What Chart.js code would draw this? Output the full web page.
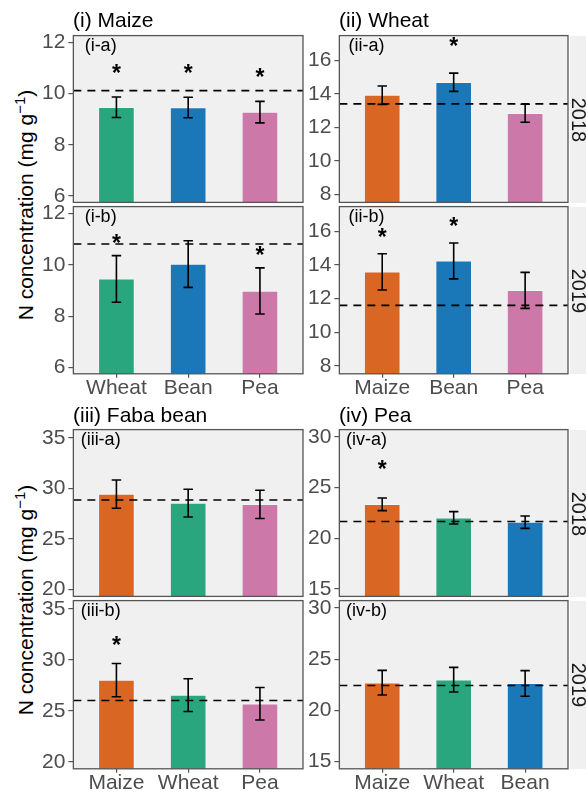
<!DOCTYPE html>
<html>
<head>
<meta charset="utf-8">
<script src="https://cdn.jsdelivr.net/npm/chart.js@4.4.1/dist/chart.umd.min.js"></script>
<style>
  body { margin: 0; width: 586px; height: 793px; overflow: hidden; position: relative; background: #fff;
         font-family: "Liberation Sans", Arial, Helvetica, sans-serif; }
  canvas { position: absolute; }
  .title { position: absolute; font-size: 21px; line-height: 21px; color: #000; white-space: nowrap; }
  .ytitle { position: absolute; font-size: 21px; line-height: 21px; color: #000; white-space: nowrap;
            transform: translate(-50%, -50%) rotate(-90deg); }
  .ytitle sup { font-size: 15px; vertical-align: 8px; line-height: 0; }
  .strip { position: absolute; left: 570px; width: 30px; background: #f0f0f0; }
  .striptext { position: absolute; font-size: 20px; line-height: 20px; color: #1a1a1a; white-space: nowrap;
               transform: translate(-50%, -50%) rotate(90deg); }
</style>
</head>
<body>
<script>
const FONT = '"Liberation Sans", Arial, Helvetica, sans-serif';

const cropColours = { Maize: '#d96723', Wheat: '#29a67e', Bean: '#1a78b8', Pea: '#cc78a8' };

// (i) Maize
const maizeCats = ['Wheat', 'Bean', 'Pea'];
const maize2018 = [9.47, 9.46, 9.28];
const maize2018Err = [0.40, 0.40, 0.42];
const maize2018Ref = 10.12;
const maize2018Star = [10.98, 10.98, 10.81];
const maize2019 = [9.45, 10.03, 8.98];
const maize2019Err = [0.91, 0.91, 0.90];
const maize2019Ref = 10.81;
const maize2019Star = [11.03, null, 10.57];
const maizeTicks = [6, 8, 10, 12];

// (ii) Wheat
const wheatCats = ['Maize', 'Bean', 'Pea'];
const wheat2018 = [13.92, 14.69, 12.84];
const wheat2018Err = [0.55, 0.545, 0.535];
const wheat2018Ref = 13.4;
const wheat2018Star = [null, 17.1, null];
const wheat2019 = [13.59, 14.24, 12.49];
const wheat2019Err = [1.08, 1.065, 1.07];
const wheat2019Ref = 11.6;
const wheat2019Star = [15.92, 16.6, null];
const wheatTicks = [8, 10, 12, 14, 16];

// (iii) Faba bean
const fabaCats = ['Maize', 'Wheat', 'Pea'];
const faba2018 = [29.45, 28.56, 28.43];
const faba2018Err = [1.4, 1.375, 1.395];
const faba2018Ref = 28.86;
const faba2018Star = [null, null, null];
const faba2019 = [28.03, 26.56, 25.71];
const faba2019Err = [1.625, 1.605, 1.59];
const faba2019Ref = 26.03;
const faba2019Star = [31.94, null, null];
const fabaTicks = [20, 25, 30, 35];

// (iv) Pea
const peaCats = ['Maize', 'Wheat', 'Bean'];
const pea2018 = [23.36, 22.03, 21.6];
const pea2018Err = [0.625, 0.61, 0.61];
const pea2018Ref = 21.67;
const pea2018Star = [27.3, null, null];
const pea2019 = [22.7, 22.99, 22.63];
const pea2019Err = [1.205, 1.205, 1.255];
const pea2019Ref = 22.42;
const pea2019Star = [null, null, null];
const peaTicks = [15, 20, 25, 30];

const panels = [
  { x: 73, y: 36, w: 230, h: 167, cats: maizeCats, vals: maize2018, errs: maize2018Err, ref: maize2018Ref, stars: maize2018Star, ticks: maizeTicks, ymin: 5.75, ymax: 12.27, tag: '(i-a)', xlab: false },
  { x: 73, y: 207, w: 230, h: 167, cats: maizeCats, vals: maize2019, errs: maize2019Err, ref: maize2019Ref, stars: maize2019Star, ticks: maizeTicks, ymin: 5.75, ymax: 12.27, tag: '(i-b)', xlab: true },
  { x: 339, y: 36, w: 229, h: 167, cats: wheatCats, vals: wheat2018, errs: wheat2018Err, ref: wheat2018Ref, stars: wheat2018Star, ticks: wheatTicks, ymin: 7.53, ymax: 17.47, tag: '(ii-a)', xlab: false },
  { x: 339, y: 207, w: 229, h: 167, cats: wheatCats, vals: wheat2019, errs: wheat2019Err, ref: wheat2019Ref, stars: wheat2019Star, ticks: wheatTicks, ymin: 7.53, ymax: 17.47, tag: '(ii-b)', xlab: true },
  { x: 73, y: 430, w: 230, h: 167, cats: fabaCats, vals: faba2018, errs: faba2018Err, ref: faba2018Ref, stars: faba2018Star, ticks: fabaTicks, ymin: 19.33, ymax: 35.83, tag: '(iii-a)', xlab: false },
  { x: 73, y: 601, w: 230, h: 168, cats: fabaCats, vals: faba2019, errs: faba2019Err, ref: faba2019Ref, stars: faba2019Star, ticks: fabaTicks, ymin: 19.33, ymax: 35.83, tag: '(iii-b)', xlab: true },
  { x: 339, y: 430, w: 229, h: 167, cats: peaCats, vals: pea2018, errs: pea2018Err, ref: pea2018Ref, stars: pea2018Star, ticks: peaTicks, ymin: 14.28, ymax: 30.73, tag: '(iv-a)', xlab: false },
  { x: 339, y: 601, w: 229, h: 168, cats: peaCats, vals: pea2019, errs: pea2019Err, ref: pea2019Ref, stars: pea2019Star, ticks: peaTicks, ymin: 14.28, ymax: 30.73, tag: '(iv-b)', xlab: true }
];

function decoPlugin(p) {
  return {
    id: 'deco',
    beforeDraw(chart) {
      const a = chart.chartArea, ctx = chart.ctx;
      ctx.save();
      ctx.fillStyle = '#f0f0f0';
      ctx.fillRect(a.left, a.top, a.right - a.left, a.bottom - a.top);
      ctx.restore();
    },
    afterDatasetsDraw(chart) {
      const a = chart.chartArea, ctx = chart.ctx;
      const xs = chart.scales.x, ys = chart.scales.y;
      ctx.save();
      ctx.beginPath();
      ctx.rect(a.left, a.top, a.right - a.left, a.bottom - a.top);
      ctx.clip();

      // reference line
      const yr = ys.getPixelForValue(p.ref);
      ctx.strokeStyle = '#000';
      ctx.lineWidth = 1.6;
      ctx.setLineDash([8, 6]);
      ctx.beginPath();
      ctx.moveTo(a.left, yr);
      ctx.lineTo(a.right, yr);
      ctx.stroke();
      ctx.setLineDash([]);

      // error bars
      ctx.lineWidth = 1.6;
      p.vals.forEach((v, i) => {
        const x = xs.getPixelForValue(i + 1);
        const cap = xs.getPixelForValue(i + 1 + 0.066) - x;
        const y1 = ys.getPixelForValue(v + p.errs[i]);
        const y2 = ys.getPixelForValue(v - p.errs[i]);
        ctx.beginPath();
        ctx.moveTo(x, y1); ctx.lineTo(x, y2);
        ctx.moveTo(x - cap, y1); ctx.lineTo(x + cap, y1);
        ctx.moveTo(x - cap, y2); ctx.lineTo(x + cap, y2);
        ctx.stroke();
      });

      // significance stars
      ctx.fillStyle = '#000';
      ctx.font = 'bold 23px ' + FONT;
      ctx.textAlign = 'center';
      ctx.textBaseline = 'alphabetic';
      const m = ctx.measureText('*');
      p.stars.forEach((s, i) => {
        if (s == null) return;
        const x = xs.getPixelForValue(i + 1);
        const y = ys.getPixelForValue(s);
        ctx.fillText('*', x, y + (m.actualBoundingBoxAscent - m.actualBoundingBoxDescent) / 2);
      });

      // panel tag
      ctx.font = '18px ' + FONT;
      ctx.fillText(p.tag, xs.getPixelForValue(0.78), a.top + 15.5);
      ctx.restore();

      // border
      ctx.save();
      ctx.strokeStyle = '#555';
      ctx.lineWidth = 1.3;
      ctx.strokeRect(a.left, a.top, a.right - a.left, a.bottom - a.top);
      ctx.restore();
    }
  };
}

function config(p) {
  return {
    type: 'bar',
    data: {
      datasets: [{
        data: p.vals.map((v, i) => ({ x: i + 1, y: v })),
        backgroundColor: p.cats.map(c => cropColours[c]),
        borderColor: 'rgba(255,255,255,0.35)',
        borderWidth: 1,
        barThickness: 36,
        clip: 0
      }]
    },
    options: {
      responsive: false,
      animation: false,
      devicePixelRatio: 1,
      layout: { padding: { top: 14, right: 8, bottom: p.xlab ? 4 : 14, left: 2 } },
      plugins: { legend: { display: false }, tooltip: { enabled: false } },
      scales: {
        x: {
          type: 'linear', min: 0.4, max: 3.6, offset: false,
          display: p.xlab,
          afterBuildTicks: s => { s.ticks = [1, 2, 3].map(v => ({ value: v })); },
          grid: { display: true, drawOnChartArea: false, drawTicks: true, tickLength: 4, color: '#555', lineWidth: 1.2, offset: false },
          border: { display: false },
          ticks: { callback: v => p.cats[v - 1], color: '#4d4d4d', font: { size: 21, family: FONT }, padding: -2, maxRotation: 0, minRotation: 0, autoSkip: false }
        },
        y: {
          min: p.ymin, max: p.ymax,
          afterBuildTicks: s => { s.ticks = p.ticks.map(v => ({ value: v })); },
          grid: { display: true, drawOnChartArea: false, drawTicks: true, tickLength: 5, color: '#555', lineWidth: 1.2 },
          border: { display: false },
          ticks: { color: '#4d4d4d', font: { size: 21, family: FONT }, padding: 3 }
        }
      }
    },
    plugins: [decoPlugin(p)]
  };
}

function build(p) {
  const cv = document.createElement('canvas');
  document.body.appendChild(cv);
  let W = p.w + 80, H = p.h + 70;
  const make = () => {
    cv.width = W; cv.height = H;
    cv.style.width = W + 'px'; cv.style.height = H + 'px';
    return new Chart(cv, config(p));
  };
  let ch = make();
  const a = ch.chartArea;
  W = Math.round(W - (a.right - a.left) + p.w);
  H = Math.round(H - (a.bottom - a.top) + p.h);
  ch.destroy();
  ch = make();
  cv.style.left = (p.x - ch.chartArea.left) + 'px';
  cv.style.top = (p.y - ch.chartArea.top) + 'px';
}

panels.forEach(build);

function addDiv(cls, html, left, top) {
  const d = document.createElement('div');
  d.className = cls;
  d.innerHTML = html;
  d.style.left = left + 'px';
  d.style.top = top + 'px';
  document.body.appendChild(d);
  return d;
}

// facet titles (baseline placed at given y)
const titles = [['(i) Maize', 73, 27], ['(ii) Wheat', 339, 27], ['(iii) Faba bean', 73, 421.5], ['(iv) Pea', 339, 421.5]];
titles.forEach(t => addDiv('title', t[0], t[1], t[2] - 0.8465 * 21));

// y axis titles
const yLabel = 'N concentration (mg g<sup>\u22121</sup>)';
addDiv('ytitle', yLabel, 25, 205);
addDiv('ytitle', yLabel, 25, 599.5);

// year strips
const years = ['2018', '2019', '2018', '2019'];
[panels[2], panels[3], panels[6], panels[7]].forEach((p, i) => {
  const s = addDiv('strip', '', 570, p.y);
  s.style.height = p.h + 'px';
  addDiv('striptext', years[i], 578.5, p.y + p.h / 2);
});
</script>
</body>
</html>
